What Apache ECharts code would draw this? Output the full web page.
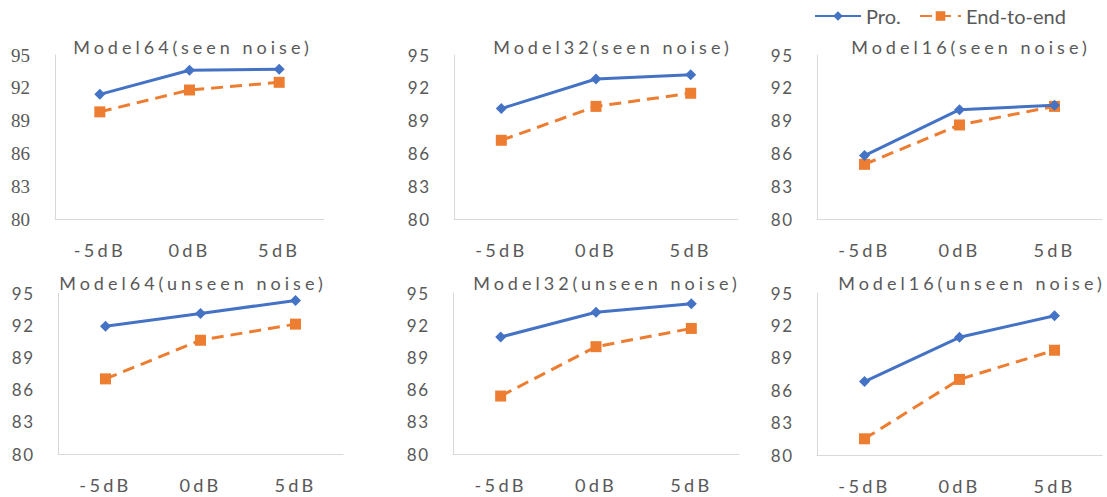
<!DOCTYPE html>
<html>
<head>
<meta charset="utf-8">
<title>Pro. vs End-to-end</title>
<script src="https://cdn.jsdelivr.net/npm/echarts@6/dist/echarts.min.js"></script>
<style>
  html, body { margin: 0; padding: 0; background: #fff; }
  #main { width: 1107px; height: 497px; }
  /* Excel-style character spacing */
  #main text[style*="18px"] { letter-spacing: 4px; }
  #main text[style*="18.2px"] { letter-spacing: 3.3px; }
  #main text[style*="17px"] { letter-spacing: 1.5px; }
  #main text[style*="Serif"] { letter-spacing: 0; }
</style>
</head>
<body>
<div id="main"></div>
<script>
// 数据
var categories = ['-5dB', '0dB', '5dB'];
var yTicks = [80, 83, 86, 89, 92, 95];
var titles = ['Model64(seen noise)', 'Model32(seen noise)', 'Model16(seen noise)',
  'Model64(unseen noise)', 'Model32(unseen noise)', 'Model16(unseen noise)'];

var pro64Seen = [91.4, 93.6, 93.7];
var e2e64Seen = [89.8, 91.8, 92.5];
var pro32Seen = [90.1, 92.8, 93.2];
var e2e32Seen = [87.2, 90.3, 91.5];
var pro16Seen = [85.8, 90.0, 90.4];
var e2e16Seen = [85.0, 88.6, 90.3];
var pro64Unseen = [91.9, 93.1, 94.3];
var e2e64Unseen = [87.0, 90.6, 92.1];
var pro32Unseen = [90.9, 93.2, 94.0];
var e2e32Unseen = [85.4, 90.0, 91.7];
var pro16Unseen = [86.8, 90.9, 92.9];
var e2e16Unseen = [81.5, 87.0, 89.7];

var proData = [pro64Seen, pro32Seen, pro16Seen, pro64Unseen, pro32Unseen, pro16Unseen];
var e2eData = [e2e64Seen, e2e32Seen, e2e16Seen, e2e64Unseen, e2e32Unseen, e2e16Unseen];

var blue = '#4472C4';
var orange = '#ED7D31';
var gray = '#595959';

// 布局
var grids = [
  { left: 55, top: 55, width: 269, height: 164 },
  { left: 454, top: 55, width: 284, height: 164 },
  { left: 817, top: 55, width: 285, height: 164 },
  { left: 58, top: 293, width: 285, height: 161 },
  { left: 453, top: 293, width: 286, height: 161 },
  { left: 817, top: 293, width: 285, height: 162 }
];
var titlePos = [[193, 47], [613, 47], [971, 47], [193, 283], [607, 283], [972, 283]];

var xAxes = [], yAxes = [], series = [], graphics = [];
for (let i = 0; i < 6; i++) {
  xAxes.push({
    type: 'category', gridIndex: i, data: categories, boundaryGap: true,
    axisLine: { lineStyle: { color: '#d9d9d9', width: 1 } },
    axisTick: { show: false },
    axisLabel: { color: gray, fontSize: 18.2, fontFamily: 'Lato', margin: 22 }
  });
  yAxes.push({
    type: 'value', gridIndex: i, min: 80, max: 95,
    axisLine: { show: true, lineStyle: { color: '#d9d9d9', width: 1 } },
    axisTick: { show: false },
    splitLine: { show: false },
    axisLabel: {
      customValues: yTicks,
      color: gray,
      fontSize: i == 0 ? 19 : 17,
      fontFamily: i == 0 ? 'Liberation Serif' : 'Lato',
      margin: i == 0 ? 25 : 23.5
    }
  });
  series.push({
    name: 'Pro.', type: 'line', xAxisIndex: i, yAxisIndex: i, data: proData[i],
    symbol: 'diamond', symbolSize: 11, z: 3,
    itemStyle: { color: blue },
    lineStyle: { color: blue, width: 3 }
  });
  series.push({
    name: 'End-to-end', type: 'line', xAxisIndex: i, yAxisIndex: i, data: e2eData[i],
    symbol: 'rect', symbolSize: 11, z: 2,
    itemStyle: { color: orange },
    lineStyle: { color: orange, width: 3, type: [12, 7] }
  });
  graphics.push({
    type: 'text', x: titlePos[i][0], y: titlePos[i][1],
    style: {
      text: titles[i], fill: gray, fontSize: 18, fontFamily: 'Lato',
      textAlign: 'center', textVerticalAlign: 'middle', align: 'center', verticalAlign: 'middle'
    }
  });
}

var chartDom = document.getElementById('main');
var myChart = echarts.init(chartDom, null, { renderer: 'svg' });
var option = {
  animation: false,
  backgroundColor: '#fff',
  legend: [
    {
      data: ['Pro.'], left: 809, top: 1, itemWidth: 46, itemHeight: 12,
      textStyle: { color: gray, fontSize: 20, fontFamily: 'Lato' }
    },
    {
      data: ['End-to-end'], left: 914, top: 1, itemWidth: 41, itemHeight: 12,
      textStyle: { color: gray, fontSize: 20, fontFamily: 'Lato' }
    }
  ],
  grid: grids,
  xAxis: xAxes,
  yAxis: yAxes,
  series: series,
  graphic: graphics
};
option && myChart.setOption(option);
</script>
</body>
</html>
